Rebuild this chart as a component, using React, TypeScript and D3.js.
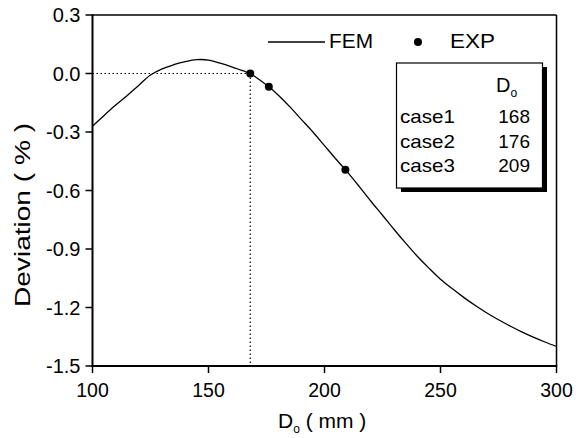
import React from "react";
import * as d3 from "d3";

const femX = [100, 105, 110, 115, 120, 125, 130, 135, 140, 145, 150, 155, 160, 165, 168, 170, 176, 180, 185, 190, 195, 200, 205, 209, 215, 220, 225, 230, 235, 240, 245, 250, 255, 260, 265, 270, 275, 280, 285, 290, 295, 300];
const femY = [-0.27, -0.215, -0.162, -0.113, -0.06, -0.008, 0.024, 0.045, 0.061, 0.071, 0.069, 0.053, 0.034, 0.013, 0.0, -0.015, -0.068, -0.11, -0.17, -0.235, -0.3, -0.37, -0.44, -0.493, -0.58, -0.655, -0.727, -0.8, -0.87, -0.937, -0.998, -1.055, -1.103, -1.148, -1.19, -1.228, -1.263, -1.295, -1.325, -1.352, -1.377, -1.4];
const expX = [168, 176, 209];
const expY = [0.0, -0.068, -0.493];
const caseNames = ["case1", "case2", "case3"];
const caseValues = ["168", "176", "209"];
const xTicks = [100, 150, 200, 250, 300];
const yTicks = [0.3, 0.0, -0.3, -0.6, -0.9, -1.2, -1.5];

const FONT = "Liberation Sans, Arial, Helvetica, sans-serif";

export default function App() {
  const W = 576, H = 438;
  const x = d3.scaleLinear().domain([100, 300]).range([92.5, 556.5]);
  const y = d3.scaleLinear().domain([-1.5, 0.3]).range([366, 15]);
  const line = d3
    .line<number>()
    .x((_, i) => x(femX[i]))
    .y((d) => y(d))
    .curve(d3.curveCatmullRom.alpha(0.5));
  const pathD = line(femY) || "";

  const x0 = x(100), x1 = x(300), y0 = y(-1.5), y1 = y(0.3);

  return (
    <svg width={W} height={H} style={{ position: "absolute", left: 0, top: 0, background: "#fff" }} fontFamily={FONT}>
      <rect x={0} y={0} width={W} height={H} fill="#fff" />
      {/* dotted reference lines */}
      <line x1={x0} x2={x(168)} y1={y(0)} y2={y(0)} stroke="#000" strokeWidth={1.2} strokeDasharray="1.5,2.5" />
      <line x1={x(168)} x2={x(168)} y1={y(0)} y2={y0} stroke="#000" strokeWidth={1.2} strokeDasharray="1.5,2.5" />
      {/* FEM curve */}
      <path d={pathD} fill="none" stroke="#000" strokeWidth={1.3} />
      {/* EXP points */}
      {expX.map((v, i) => (
        <circle key={i} cx={x(v)} cy={y(expY[i])} r={4} fill="#000" />
      ))}
      {/* frame */}
      <line x1={x0} x2={x1} y1={y1} y2={y1} stroke="#000" strokeWidth={1.5} />
      <line x1={x1} x2={x1} y1={y1} y2={y0} stroke="#000" strokeWidth={1.5} />
      <line x1={x0} x2={x0} y1={y1 - 0.75} y2={y0 + 1} stroke="#000" strokeWidth={2} />
      <line x1={x0 - 1} x2={x1 + 0.75} y1={y0} y2={y0} stroke="#000" strokeWidth={2} />
      {/* y ticks */}
      {yTicks.map((t) => (
        <g key={"y" + t}>
          <line x1={x0 - 7} x2={x0} y1={y(t)} y2={y(t)} stroke="#000" strokeWidth={1.5} />
          <text x={x0 - 12} y={y(t)} dy="0.36em" textAnchor="end" fontSize={20}>
            {t.toFixed(1)}
          </text>
        </g>
      ))}
      {/* x ticks */}
      {xTicks.map((t) => (
        <g key={"x" + t}>
          <line x1={x(t)} x2={x(t)} y1={y0} y2={y0 + 7} stroke="#000" strokeWidth={1.5} />
          <text x={x(t)} y={397} textAnchor="middle" fontSize={19.5}>
            {t}
          </text>
        </g>
      ))}
      {/* axis titles */}
      <text x={278} y={428} fontSize={21}>
        D
        <tspan fontSize={12} dy={5}>o</tspan>
        <tspan dy={-5}>{" ( mm )"}</tspan>
      </text>
      <text
        transform={`translate(30, 215) rotate(-90)`}
        textAnchor="middle"
        fontSize={22}
        textLength={184}
        lengthAdjust="spacingAndGlyphs"
      >
        Deviation ( % )
      </text>
      {/* legend */}
      <line x1={268} x2={325} y1={42} y2={42} stroke="#000" strokeWidth={1.3} />
      <text x={329} y={48} fontSize={20} textLength={44} lengthAdjust="spacingAndGlyphs">FEM</text>
      <circle cx={418} cy={42} r={4} fill="#000" />
      <text x={450} y={48} fontSize={20} textLength={45} lengthAdjust="spacingAndGlyphs">EXP</text>
      {/* table box */}
      <rect x={401} y={67} width={146} height={125} fill="#000" />
      <rect x={396.5} y={63} width={146} height={125} fill="#fff" stroke="#000" strokeWidth={1.2} />
      <text x={496} y={92} fontSize={20}>
        D
        <tspan fontSize={12} dy={5}>o</tspan>
      </text>
      {caseNames.map((c, i) => (
        <g key={c}>
          <text x={400} y={123 + i * 24.5} fontSize={18.5} textLength={55} lengthAdjust="spacingAndGlyphs">{c}</text>
          <text x={530} y={123 + i * 24.5} fontSize={19} textAnchor="end">{caseValues[i]}</text>
        </g>
      ))}
    </svg>
  );
}
